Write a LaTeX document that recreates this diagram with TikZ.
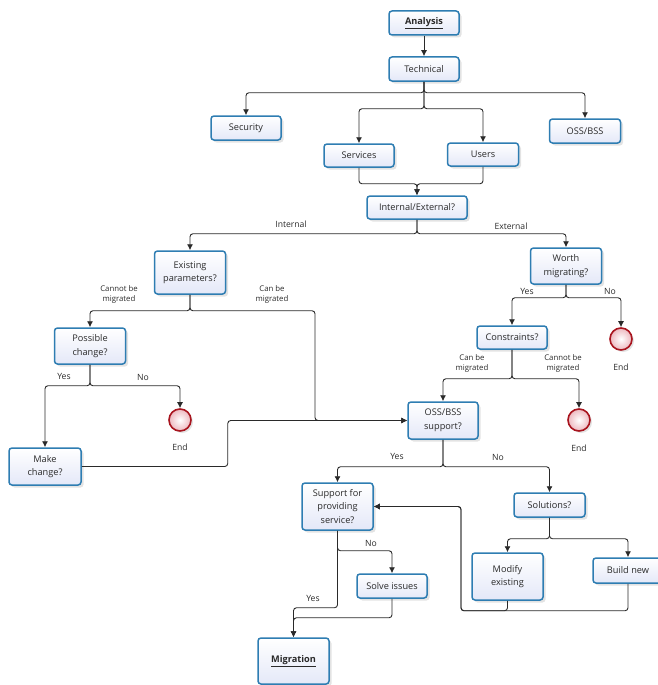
\documentclass[tikz,border=0pt]{standalone}
\usepackage{fontspec}
\setmainfont{Open Sans}
\usetikzlibrary{arrows.meta,shadows}
\definecolor{bord}{HTML}{2E7DB2}
\definecolor{boxbot}{HTML}{E4E8F8}
\definecolor{txt}{HTML}{2A2A2A}
\definecolor{linec}{HTML}{2A2A2A}
\definecolor{endred}{HTML}{A8141E}
\definecolor{endfill}{HTML}{EDB8BF}
\begin{document}
\begin{tikzpicture}[x=1pt,y=-1pt,
  box/.style={draw=bord, line width=1.5pt, rounded corners=3pt, top color=white, bottom color=boxbot,
    drop shadow={opacity=0.22, shadow xshift=2.5pt, shadow yshift=-2.5pt},
    align=center, inner sep=1pt, text=txt, font=\fontsize{9.2}{13.5}\selectfont},
  endc/.style={circle, draw=endred, line width=1.6pt, inner color=white, outer color=endfill,
    minimum size=22pt, inner sep=0pt, drop shadow={opacity=0.22, shadow xshift=2pt, shadow yshift=-2pt}},
  con/.style={draw=linec, line width=0.9pt, rounded corners=3pt, -{Latex[length=6pt,width=6pt]}},
  lab/.style={align=center, text=txt, inner sep=0pt, font=\fontsize{7.8}{10.8}\selectfont},
  yn/.style={text=txt, inner sep=0pt, font=\fontsize{8.6}{10}\selectfont}]
\useasboundingbox (0,0) rectangle (657,685);

% nodes
\node[box, minimum width=70pt, minimum height=24pt] (an) at (424,23) {\textbf{\underline{Analysis}}};
\node[box, minimum width=70pt, minimum height=24pt] (tech) at (424,69) {Technical};
\node[box, minimum width=70pt, minimum height=24pt] (sec) at (246,128) {Security};
\node[box, minimum width=71pt, minimum height=24pt] (oss) at (585,131) {OSS/BSS};
\node[box, minimum width=70pt, minimum height=23pt] (serv) at (359,155.5) {Services};
\node[box, minimum width=71pt, minimum height=23pt] (users) at (483,154.5) {Users};
\node[box, minimum width=100pt, minimum height=23pt] (ie) at (417,207.5) {Internal/External?};
\node[box, minimum width=71pt, minimum height=43pt] (ep) at (190,272.5) {Existing\\parameters?};
\node[box, minimum width=71pt, minimum height=36pt] (wm) at (566,266) {Worth\\migrating?};
\node[box, minimum width=71pt, minimum height=36pt] (pc) at (90,346) {Possible\\change?};
\node[box, minimum width=70pt, minimum height=23pt] (cons) at (512,337.5) {Constraints?};
\node[box, minimum width=70pt, minimum height=37pt] (ossup) at (443,420.5) {OSS/BSS\\support?};
\node[box, minimum width=72pt, minimum height=37pt] (mc) at (45,466.5) {Make\\change?};
\node[box, minimum width=71pt, minimum height=47pt] (spp) at (337.5,506.5) {Support for\\providing\\service?};
\node[box, minimum width=71pt, minimum height=24pt] (sol) at (549.5,505) {Solutions?};
\node[box, minimum width=71pt, minimum height=47pt] (mod) at (507.5,576.5) {Modify\\existing};
\node[box, minimum width=70pt, minimum height=25pt] (bn) at (628,570.5) {Build new};
\node[box, minimum width=70pt, minimum height=24pt] (si) at (392,586) {Solve issues};
\node[box, minimum width=71pt, minimum height=46pt] (mig) at (293.5,661) {\textbf{\underline{Migration}}};

\node[endc] (e1) at (180,420) {};
\node[endc] (e2) at (621,339) {};
\node[endc] (e3) at (579,420) {};

% connectors
\draw[con] (an) -- (tech);
\draw[con] (tech.south) -- ++(0,11) -| (sec.north);
\draw[con] (tech.south) -- ++(0,11) -| (oss.north);
\draw[con] (tech.south) -- ++(0,27) -| (serv.north);
\draw[con] (tech.south) -- ++(0,27) -| (users.north);
\draw[con] (serv.south) -- ++(0,16) -| (ie.north);
\draw[con] (users.south) -- ++(0,17) -| (ie.north);
\draw[con] (ie.south) -- ++(0,14) -| (ep.north);
\draw[con] (ie.south) -- ++(0,14) -| (wm.north);
\draw[con] (ep.south) -- ++(0,16) -| (pc.north);
\draw[con] (ep.south) -- ++(0,16) -- ++(125,0) |- (ossup.west);
\draw[con] (pc.south) -- ++(0,21) -| (mc.north);
\draw[con] (pc.south) -- ++(0,21) -| (e1.north);
\draw[con] (mc.east) -- ++(146,0) |- (ossup.west);
\draw[con] (wm.south) -- ++(0,13) -| (cons.north);
\draw[con] (wm.south) -- ++(0,13) -| (e2.north);
\draw[con] (cons.south) -- ++(0,29) -| (ossup.north);
\draw[con] (cons.south) -- ++(0,29) -| (e3.north);
\draw[con] (ossup.south) -- ++(0,27) -| (spp.north);
\draw[con] (ossup.south) -- ++(0,27) -| (sol.north);
\draw[con] (sol.south) -- ++(0,21) -| (mod.north);
\draw[con] (sol.south) -- ++(0,21) -| (bn.north);
\draw[con] (mod.south) -- ++(0,10) -- ++(-46.5,0) |- (spp.east);
\draw[con] (bn.south) -- ++(0,27) -- ++(-167,0) |- (spp.east);
\draw[con] (spp.south) -- ++(0,20) -| (si.north);
\draw[con] (spp.south) -- ++(0,77) -| (mig.north);
\draw[con] (si.south) -- ++(0,19) -| (mig.north);

% labels
\node[yn] (lint) at (291,224) {Internal};
\node[yn] (lext) at (511,226) {External};
\node[lab] (lcn1) at (119,294.5) {Cannot be\\migrated};
\node[lab] (lcb1) at (272,294.5) {Can be\\migrated};
\node[yn] (ly1) at (527,291) {Yes};
\node[yn] (ln1) at (610,291) {No};
\node[lab] (lcb2) at (472,363.5) {Can be\\migrated};
\node[lab] (lcn2) at (563,363.5) {Cannot be\\migrated};
\node[yn] (ly2) at (64,376) {Yes};
\node[yn] (ln2) at (143,377) {No};
\node[yn] (ly3) at (397,456) {Yes};
\node[yn] (ln3) at (498,457) {No};
\node[yn] (ln4) at (371,543) {No};
\node[yn] (ly4) at (313,598) {Yes};
\node[yn] (le1) at (180,447) {End};
\node[yn] (le2) at (621,367) {End};
\node[yn] (le3) at (579,448) {End};
\end{tikzpicture}
\end{document}
